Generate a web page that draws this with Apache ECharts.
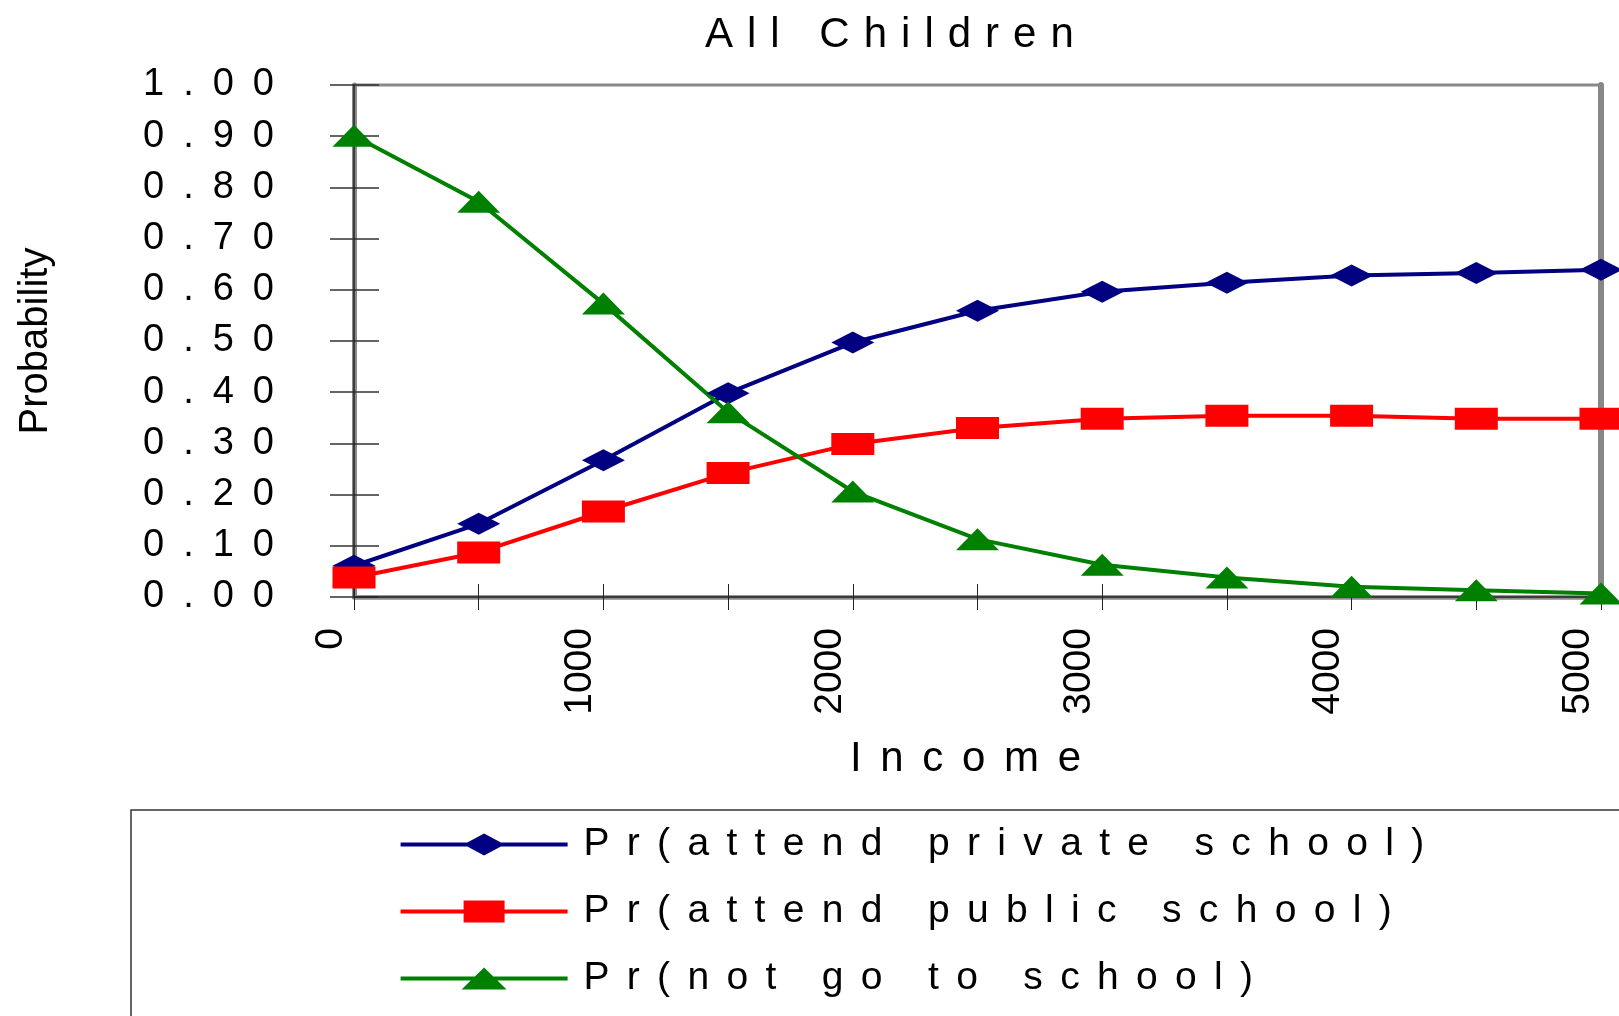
<!DOCTYPE html>
<html>
<head>
<meta charset="utf-8">
<title>All Children</title>
<script src="https://cdn.jsdelivr.net/npm/echarts@6/dist/echarts.min.js"></script>
<style>
  html, body { margin: 0; padding: 0; background: #fff; }
  #chart { width: 1619px; height: 1016px; }
</style>
</head>
<body>
<div id="chart"></div>
<script>
// Household income levels (x categories)
const incomes = ['0', '500', '1000', '1500', '2000', '2500', '3000', '3500', '4000', '4500', '5000'];

// Predicted probabilities for each schooling outcome
const privateSchool = [0.061, 0.143, 0.267, 0.398, 0.497, 0.559, 0.596, 0.614, 0.628, 0.633, 0.639];
const publicSchool  = [0.038, 0.087, 0.167, 0.242, 0.299, 0.330, 0.348, 0.354, 0.354, 0.348, 0.348];
const noSchool      = [0.901, 0.772, 0.573, 0.361, 0.206, 0.113, 0.063, 0.038, 0.020, 0.013, 0.007];

const seriesNames = [
  'Pr(attend private school)',
  'Pr(attend public school)',
  'Pr(not go to school)'
];

const FONT = '"Liberation Sans", Arial, Helvetica, sans-serif';
const NAVY = '#000080', RED = '#ff0000', GREEN = '#008000';

// spread letters apart with a spacer string
function spread(text, gap) {
  return Array.from(text).join(gap);
}

// legend icons: a line with the series marker in its middle
const ICON_LINE = 'M0,9H167V13H0Z';
const ICONS = {
  diamond: 'path://' + ICON_LINE + 'M83.5,0L104,11L83.5,22L63,11Z',
  rect: 'path://' + ICON_LINE + 'M63,0H104V22H63Z',
  triangle: 'path://' + ICON_LINE + 'M83.5,0L106,22H61Z'
};

const MARK = [43, 22];

function lineSeries(name, data, color, symbol) {
  return {
    name: name,
    type: 'line',
    data: data,
    xAxisIndex: 0,
    yAxisIndex: 0,
    symbol: symbol,
    symbolSize: MARK,
    showAllSymbol: true,
    clip: false,
    lineStyle: { color: color, width: 4 },
    itemStyle: { color: color, borderWidth: 0 },
    emphasis: { disabled: true },
    z: 5
  };
}

const chart = echarts.init(document.getElementById('chart'), null, { renderer: 'canvas' });

chart.setOption({
  animation: false,
  backgroundColor: '#ffffff',
  textStyle: { fontFamily: FONT },
  title: {
    text: spread('All Children', '\u2004'),
    left: 705,
    top: 14,
    padding: 0,
    textStyle: { fontFamily: FONT, fontSize: 42, fontWeight: 'normal', color: '#000' }
  },
  grid: {
    left: 354, top: 85, width: 1247, height: 512,
    show: true,
    borderColor: '#888888',
    borderWidth: 3,
    backgroundColor: 'transparent'
  },
  legend: {
    orient: 'vertical',
    left: 131,
    top: 810,
    width: 1400,
    height: 400,
    padding: [14.6, 400, 60, 269.6],
    itemWidth: 167,
    itemHeight: 22,
    itemGap: 27,
    selectedMode: false,
    borderColor: '#333333',
    borderWidth: 1.5,
    formatter: function (name) { return ' ' + spread(name, ' \u2006'); },
    textStyle: { fontFamily: FONT, fontSize: 39, lineHeight: 40, color: '#000' },
    data: [
      { name: seriesNames[0], icon: ICONS.diamond, itemStyle: { color: NAVY, borderWidth: 0 } },
      { name: seriesNames[1], icon: ICONS.rect, itemStyle: { color: RED, borderWidth: 0 } },
      { name: seriesNames[2], icon: ICONS.triangle, itemStyle: { color: GREEN, borderWidth: 0 } }
    ]
  },
  xAxis: [
    {
      type: 'category',
      data: incomes,
      boundaryGap: false,
      position: 'bottom',
      z: 3,
      name: spread('Income', ' \u2006'),
      nameLocation: 'middle',
      nameGap: 141,
      nameTextStyle: { fontFamily: FONT, fontSize: 42, color: '#000', padding: [0, 24, 0, 0] },
      axisLine: { show: true, onZero: false, lineStyle: { color: '#222', width: 1.5 } },
      axisTick: { show: true, interval: 0, inside: false, length: 13, lineStyle: { color: '#222', width: 1 } },
      axisLabel: {
        interval: 1,
        rotate: 90,
        margin: 31,
        verticalAlign: 'bottom',
        lineHeight: 46,
        fontFamily: FONT,
        fontSize: 39,
        color: '#000'
      },
      splitLine: { show: false }
    },
    {
      // upper half of the crossing tick marks plus the grey axis band
      type: 'category',
      data: incomes,
      boundaryGap: false,
      position: 'bottom',
      z: 2,
      axisLine: { show: true, onZero: false, lineStyle: { color: '#8a8a8a', width: 4.5 } },
      axisTick: { show: true, interval: 0, inside: true, length: 13, lineStyle: { color: '#222', width: 1 } },
      axisLabel: { show: false },
      splitLine: { show: false }
    }
  ],
  yAxis: [
    {
      type: 'value',
      min: 0,
      max: 1,
      interval: 0.1,
      position: 'left',
      z: 3,
      name: 'Probability',
      nameLocation: 'middle',
      nameRotate: 90,
      nameGap: 298,
      nameTextStyle: { fontFamily: FONT, fontSize: 40, color: '#000' },
      axisLine: { show: true, onZero: false, lineStyle: { color: '#222', width: 1.5 } },
      axisTick: { show: true, inside: false, length: 24, lineStyle: { color: '#333', width: 1.5 } },
      axisLabel: {
        margin: 80,
        fontFamily: FONT,
        fontSize: 38,
        color: '#000',
        formatter: function (v) { return spread(v.toFixed(2), '\u2002'); }
      },
      splitLine: { show: false }
    },
    {
      // right half of the crossing tick marks plus the grey axis band
      type: 'value',
      min: 0,
      max: 1,
      interval: 0.1,
      position: 'left',
      z: 2,
      axisLine: { show: true, onZero: false, lineStyle: { color: '#8a8a8a', width: 5 } },
      axisTick: { show: true, inside: true, length: 25, lineStyle: { color: '#333', width: 1.5 } },
      axisLabel: { show: false },
      splitLine: { show: false }
    },
    {
      // heavier right frame edge
      type: 'value',
      min: 0,
      max: 1,
      interval: 0.1,
      position: 'right',
      z: 2,
      axisLine: { show: true, onZero: false, lineStyle: { color: '#888888', width: 6 } },
      axisTick: { show: false },
      axisLabel: { show: false },
      splitLine: { show: false }
    }
  ],
  series: [
    lineSeries(seriesNames[0], privateSchool, NAVY, 'diamond'),
    lineSeries(seriesNames[1], publicSchool, RED, 'rect'),
    lineSeries(seriesNames[2], noSchool, GREEN, 'triangle')
  ]
});
</script>
</body>
</html>
